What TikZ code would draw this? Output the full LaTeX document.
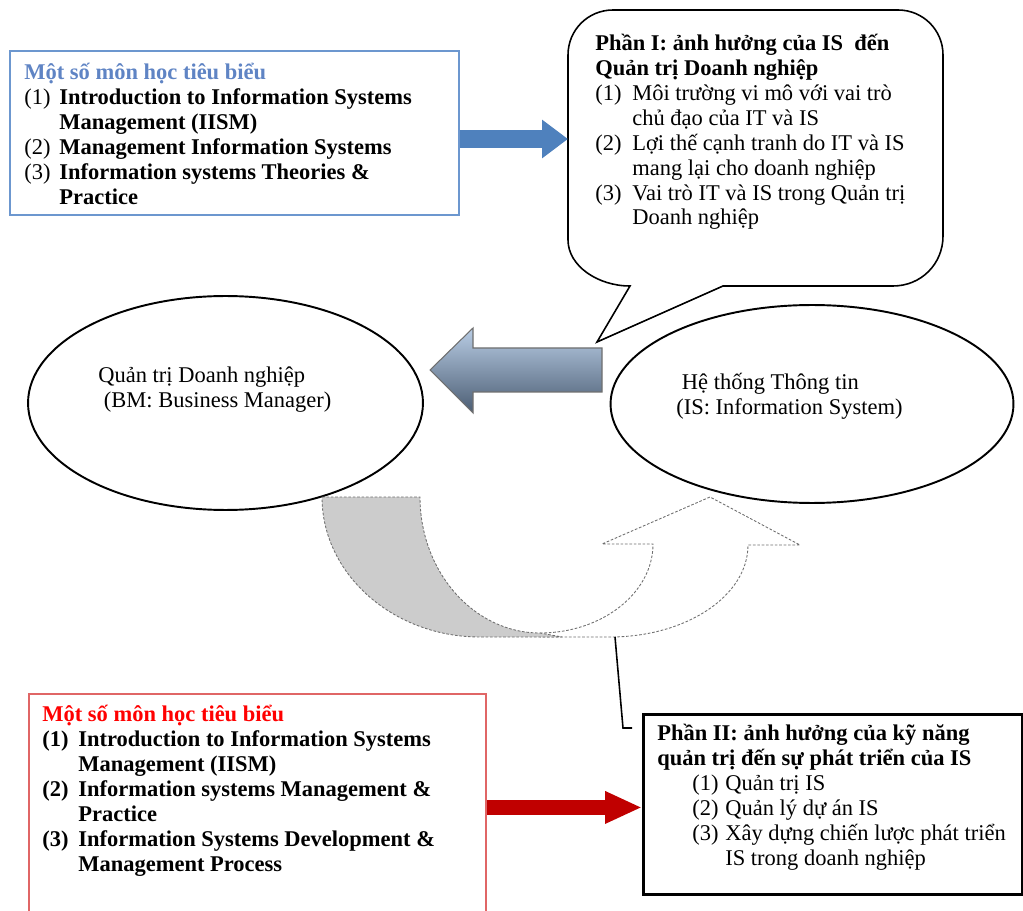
\documentclass[tikz,border=0pt]{standalone}
\usepackage{fontspec}
\setmainfont{Liberation Serif}
\usepackage{array}
\usetikzlibrary{arrows.meta, shapes.geometric, positioning}
\definecolor{vienXanh}{HTML}{6C97CF}
\definecolor{tieudeXanh}{HTML}{5F84C4}
\definecolor{muiXanh}{HTML}{4F81BD}
\definecolor{vienDo}{HTML}{E06666}
\definecolor{muiDo}{HTML}{C00000}
\definecolor{dauXam}{HTML}{B9CDE5}
\definecolor{cuoiXam}{HTML}{4B5D73}
\definecolor{vienXam}{HTML}{6F6F6F}
\definecolor{nenXam}{HTML}{CCCCCC}

\begin{document}
\begin{tikzpicture}[x=0.02cm, y=0.02cm, font=\fontsize{12.8}{14.2}\selectfont,
        txt/.style={anchor=north west, inner sep=0pt},
        khung/.style={anchor=north west, inner sep=0pt},
        vong/.style={draw, ellipse, line width=1.1pt, inner sep=0pt},
        muixanh/.style={-{Triangle[length=0.52cm, width=0.74cm]}, line width=0.36cm, muiXanh},
        muido/.style={-{Triangle[length=0.74cm, width=0.6cm]}, line width=0.3cm, muiDo},
        cong/.style={draw=vienXam, line width=0.5pt, dash pattern=on 1.5pt off 1pt}]
    \useasboundingbox (0,0) rectangle (1023,-911);

    % khung mon hoc (tren)
    \node[khung, draw=vienXanh, line width=1.1pt, minimum width=8.98cm, minimum height=3.28cm] (mon1) at (9,-50) {};
    \node[txt] (mon1txt) at (24,-61.5) {\begin{tabular}{@{}p{0.7cm}@{}l@{}}
        \multicolumn{2}{@{}l@{}}{\color{tieudeXanh}\textbf{Một số môn học tiêu biểu}}\\
        (1) & \textbf{Introduction to Information Systems}\\
            & \textbf{Management (IISM)}\\
        (2) & \textbf{Management Information Systems}\\
        (3) & \textbf{Information systems Theories \&}\\
            & \textbf{Practice}
    \end{tabular}};

    % chu thich phan I
    \draw[line width=0.9pt] (597,-342) -- (723,-286) -- (893,-286)
        .. controls (921,-286) and (943,-264) .. (943,-236) -- (943,-55)
        .. controls (943,-30) and (923,-10) .. (898,-10) -- (613,-10)
        .. controls (588,-10) and (568,-30) .. (568,-55) -- (568,-240)
        .. controls (568,-266) and (598,-286) .. (630,-286) -- cycle;
    \coordinate (c1w) at (568,-139);
    \node[txt] (phan1) at (595,-32.5) {\begin{tabular}{@{}p{0.74cm}@{}l@{}}
        \multicolumn{2}{@{}l@{}}{\textbf{Phần I: ảnh hưởng của IS\ \ đến}}\\
        \multicolumn{2}{@{}l@{}}{\textbf{Quản trị Doanh nghiệp}}\\
        (1) & Môi trường vi mô với vai trò\\
            & chủ đạo của IT và IS\\
        (2) & Lợi thế cạnh tranh do IT và IS\\
            & mang lại cho doanh nghiệp\\
        (3) & Vai trò IT và IS trong Quản trị\\
            & Doanh nghiệp
    \end{tabular}};
    \draw[muixanh] (mon1.east |- c1w) -- (c1w);

    % hai vong
    \node[vong, minimum width=7.9cm, minimum height=4.28cm] (bm) at (225.5,-403) {};
    \node[txt, anchor=west, align=left] (bmtxt) at (98,-390) {Quản trị Doanh nghiệp\\~(BM: Business Manager)};
    \node[vong, minimum width=8.06cm, minimum height=3.96cm] (is) at (812,-404) {};
    \node[txt, anchor=west, align=left] (istxt) at (676,-396) {~Hệ thống Thông tin\\(IS: Information System)};
    \shadedraw[top color=dauXam, bottom color=cuoiXam, draw=vienXam, line width=0.6pt]
        (602,-348) -- (473,-348) -- (473,-328) -- (430,-370) -- (473,-413) -- (473,-392) -- (602,-392) -- cycle;

    % mui ten cong
    \filldraw[cong, fill=white] (540,-633) .. controls (602,-633) and (653,-593) .. (653,-544)
        -- (602,-544) -- (710,-497) -- (800,-545) -- (748,-545)
        .. controls (748,-596) and (686,-637) .. (610,-637) -- (540,-637) -- cycle;
    \filldraw[cong, fill=nenXam] (322,-497) -- (420,-497) .. controls (420,-572) and (474,-633) .. (540,-633)
        -- (562,-637) -- (480,-637) .. controls (393,-637) and (322,-574) .. (322,-497) -- cycle;
    \draw[line width=0.9pt] (615,-637) -- (623,-728) -- (632,-728);

    % khung mon hoc (duoi)
    \node[khung, draw=vienDo, line width=1.1pt, minimum width=9.14cm, minimum height=4.54cm] (mon2) at (28,-693) {};
    \node[txt] (mon2txt) at (42,-703.5) {\begin{tabular}{@{}p{0.72cm}@{}l@{}}
        \multicolumn{2}{@{}l@{}}{\color{red}\textbf{Một số môn học tiêu biểu}}\\
        \textbf{(1)} & \textbf{Introduction to Information Systems}\\
            & \textbf{Management (IISM)}\\
        \textbf{(2)} & \textbf{Information systems Management \&}\\
            & \textbf{Practice}\\
        \textbf{(3)} & \textbf{Information Systems Development \&}\\
            & \textbf{Management Process}
    \end{tabular}};

    % khung phan II
    \node[khung, draw, line width=1.6pt, minimum width=7.58cm, minimum height=3.6cm] (phan2) at (642,-713) {};
    \node[txt] (phan2txt) at (657,-722.5) {\begin{tabular}{@{}p{0.7cm}@{}p{0.66cm}@{}l@{}}
        \multicolumn{3}{@{}l@{}}{\textbf{Phần II: ảnh hưởng của kỹ năng}}\\
        \multicolumn{3}{@{}l@{}}{\textbf{quản trị đến sự phát triển của IS}}\\
        & (1) & Quản trị IS\\
        & (2) & Quản lý dự án IS\\
        & (3) & Xây dựng chiến lược phát triển\\
        &     & IS trong doanh nghiệp
    \end{tabular}};
    \draw[muido] (mon2.east) -- (phan2.west |- mon2.east);
\end{tikzpicture}
\end{document}
